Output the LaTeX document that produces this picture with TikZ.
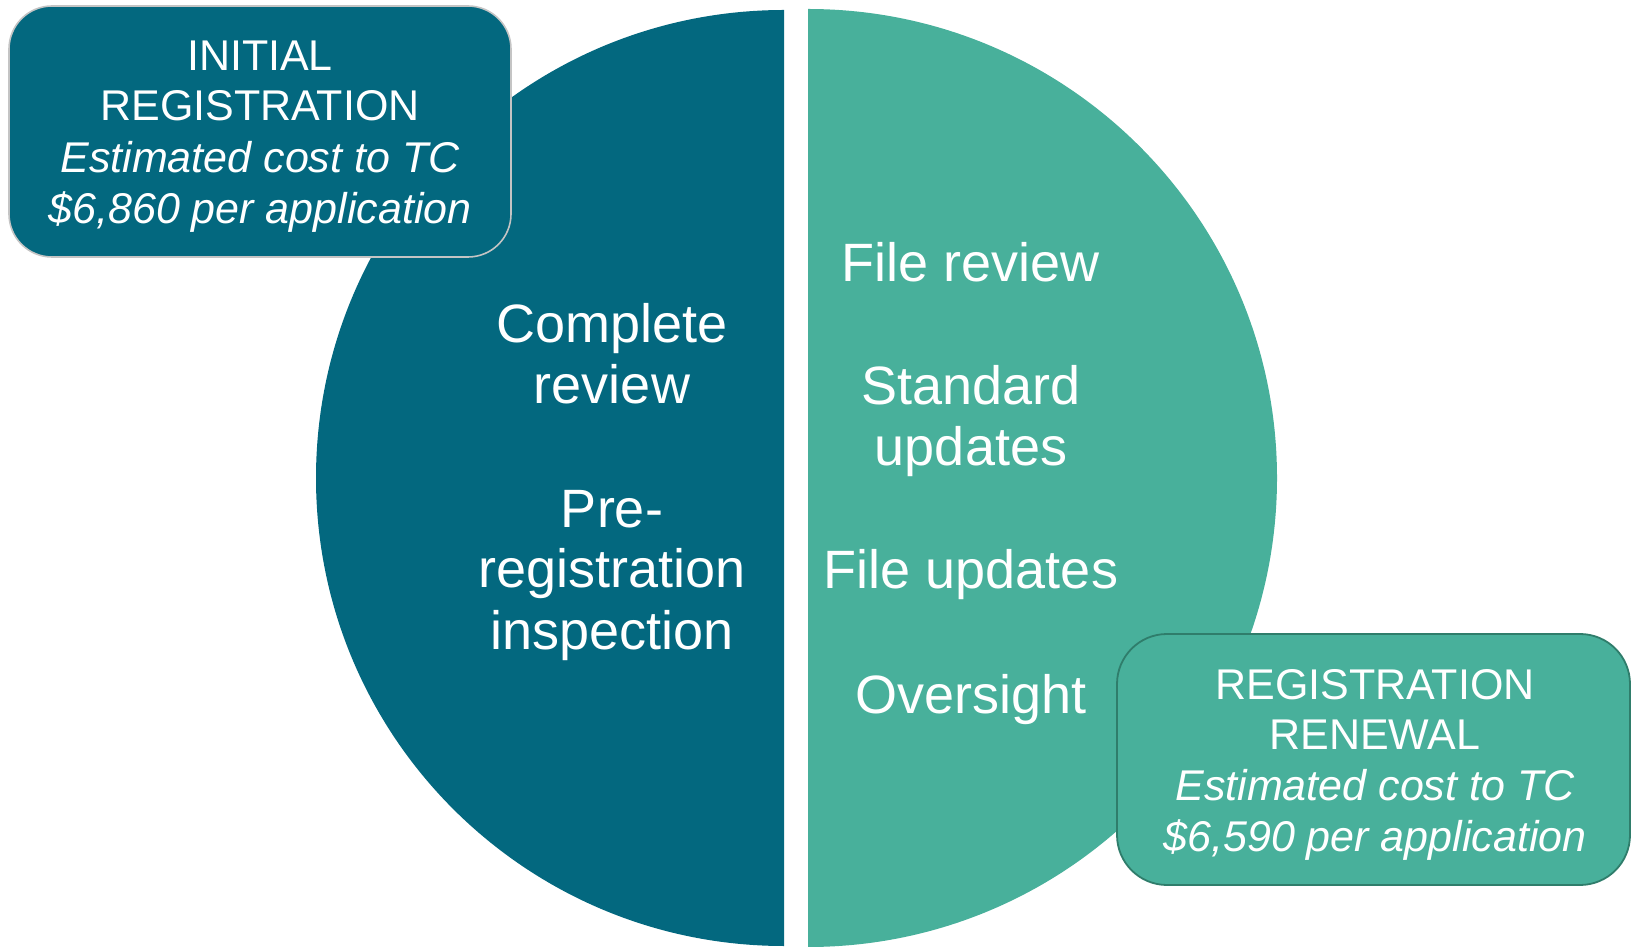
\documentclass[tikz,border=0pt]{standalone}
\usepackage{fontspec}
\setmainfont{Liberation Sans}
\definecolor{darkteal}{HTML}{03687F}
\definecolor{lightteal}{HTML}{48B09B}
\definecolor{boxgray}{HTML}{C4C4C4}
\definecolor{boxgreen}{HTML}{2F7D6B}
\begin{document}
\begin{tikzpicture}[x=1pt,y=1pt,
  boxline/.style={font=\fontsize{43}{50}\selectfont,text=white,anchor=base,inner sep=0pt},
  midline/.style={font=\fontsize{54}{61}\selectfont,text=white,anchor=base,inner sep=0pt}]
\useasboundingbox (0,0) rectangle (1633,946);
\begin{scope}
\clip (0,0) rectangle (1633,946);
% left half disc
\fill[darkteal] (784,936) arc[start angle=90,end angle=270,radius=468] -- cycle;
% right half disc
\fill[lightteal] (808,937) arc[start angle=90,end angle=-90,radius=469] -- cycle;
\end{scope}
% boxes
\draw[fill=darkteal,draw=boxgray,line width=1.6pt,rounded corners=43pt] (9,689) rectangle (511,940);
\draw[fill=lightteal,draw=boxgreen,line width=1.8pt,rounded corners=50pt] (1117,61) rectangle (1630,312);
% upper-left box text
\node[boxline] (ia) at (260,946-71) {INITIAL};
\node[boxline] (ib) at (260,946-121) {REGISTRATION};
\node[boxline] (ic) at (260,946-173) {\itshape Estimated cost to TC};
\node[boxline] (id) at (260,946-224) {\itshape \$6,860 per application};
% lower-right box text
\node[boxline] (ra) at (1375,946-699) {REGISTRATION};
\node[boxline] (rb) at (1375,946-749) {RENEWAL};
\node[boxline] (rc) at (1375,946-800) {\itshape Estimated cost to TC};
\node[boxline] (rd) at (1375,946-851) {\itshape \$6,590 per application};
% left half text
\node[midline] (la) at (612,946-343) {Complete};
\node[midline] (lb) at (612,946-404) {review};
\node[midline] (lc) at (612,946-528) {Pre-};
\node[midline] (ld) at (612,946-588) {registration};
\node[midline] (le) at (612,946-649) {inspection};
% right half text
\node[midline] (ma) at (971,946-282) {File review};
\node[midline] (mb) at (971,946-405) {Standard};
\node[midline] (mc) at (971,946-466) {updates};
\node[midline] (md) at (971,946-589) {File updates};
\node[midline] (me) at (971,946-713) {Oversight};
\end{tikzpicture}
\end{document}
